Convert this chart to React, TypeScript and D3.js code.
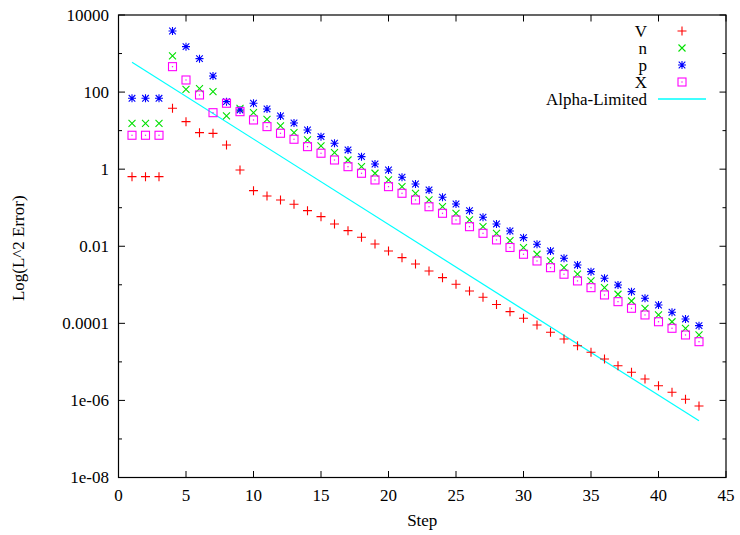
import React from "react";
import * as d3 from "d3";

// ---------- data ----------
const steps = [
  1, 2, 3, 4, 5, 6, 7, 8, 9, 10, 11, 12, 13, 14, 15, 16, 17, 18, 19, 20, 21, 22,
  23, 24, 25, 26, 27, 28, 29, 30, 31, 32, 33, 34, 35, 36, 37, 38, 39, 40, 41, 42, 43,
];

const valuesV = [
  0.64, 0.64, 0.64, 38, 17.1, 8.85, 8.5, 4.25, 0.95, 0.277, 0.202, 0.159, 0.123,
  0.0838, 0.0586, 0.0379, 0.0254, 0.0171, 0.01146, 0.00755, 0.00506, 0.00347,
  0.00228, 0.00153, 0.00103, 6.9e-4, 4.74e-4, 3.08e-4, 2.01e-4, 1.35e-4, 9.06e-5,
  5.86e-5, 3.93e-5, 2.63e-5, 1.77e-5, 1.19e-5, 7.96e-6, 5.37e-6, 3.6e-6, 2.41e-6,
  1.63e-6, 1.07e-6, 7.18e-7,
];

const valuesN = [
  15.5, 15.5, 15.5, 865, 118, 123, 102.5, 24, 38, 29.2, 19.7, 13.2, 8.85, 5.72,
  4.0, 2.68, 1.73, 1.16, 0.783, 0.525, 0.352, 0.237, 0.159, 0.106, 0.0717, 0.0481,
  0.0322, 0.0217, 0.014, 0.00918, 0.0062, 0.00415, 0.00278, 0.00188, 0.00126,
  8.42e-4, 5.68e-4, 3.8e-4, 2.46e-4, 1.65e-4, 1.1e-4, 7.44e-5, 4.99e-5,
];

const valuesP = [
  69, 69, 69, 3850, 1510, 736, 262, 56.4, 34.4, 51.3, 36.5, 24, 15.8, 10.4, 6.97,
  4.7, 3.15, 2.11, 1.36, 0.953, 0.616, 0.413, 0.289, 0.187, 0.125, 0.0838, 0.0565,
  0.0379, 0.0249, 0.0167, 0.01125, 0.00755, 0.00488, 0.00327, 0.00219, 0.00148,
  9.9e-4, 6.63e-4, 4.47e-4, 2.99e-4, 1.94e-4, 1.3e-4, 8.7e-5,
];

const valuesX = [
  7.58, 7.58, 7.58, 457, 206, 84.2, 29.2, 51.3, 31, 18.9, 12.7, 8.54, 5.97, 3.84,
  2.59, 1.73, 1.16, 0.783, 0.525, 0.352, 0.237, 0.159, 0.106, 0.0717, 0.0481,
  0.0322, 0.0217, 0.0146, 0.00929, 0.0062, 0.00415, 0.00278, 0.00188, 0.00126,
  8.42e-4, 5.45e-4, 3.65e-4, 2.46e-4, 1.65e-4, 1.1e-4, 7.44e-5, 4.99e-5, 3.34e-5,
];

const alphaSteps = [1, 43];
const alphaValues = [594, 2.98e-7];

const xTicks = [0, 5, 10, 15, 20, 25, 30, 35, 40, 45];
const yTicks = [1e4, 1e2, 1, 1e-2, 1e-4, 1e-6, 1e-8];
const yTickLabels = ["10000", "100", "1", "0.01", "0.0001", "1e-06", "1e-08"];
const yMinorTicks = [1e3, 10, 0.1, 1e-3, 1e-5, 1e-7];

const legendNames = ["V", "n", "p", "X", "Alpha-Limited"];

// ---------- layout ----------
const W = 740;
const H = 535;
const L = 118.5;
const R = 726;
const T = 15;
const B = 477.5;
const FONT = "'Liberation Serif', 'Times New Roman', serif";
const FS = 17;

const x = d3.scaleLinear().domain([0, 45]).range([L, R]);
const y = d3.scaleLog().domain([1e-8, 1e4]).range([B, T]);

type Kind = "plus" | "cross" | "star" | "box";

function Marker({ kind, cx, cy, color }: { kind: Kind; cx: number; cy: number; color: string }) {
  if (kind === "plus") {
    return (
      <path
        d={`M${cx - 4.5},${cy}h9M${cx},${cy - 4.5}v9`}
        stroke={color}
        strokeWidth={1.1}
        fill="none"
      />
    );
  }
  if (kind === "cross") {
    return (
      <path
        d={`M${cx - 3.5},${cy - 3.5}l7,7M${cx - 3.5},${cy + 3.5}l7,-7`}
        stroke={color}
        strokeWidth={1.1}
        fill="none"
      />
    );
  }
  if (kind === "star") {
    return (
      <path
        d={`M${cx - 4},${cy}h8M${cx},${cy - 4}v8M${cx - 3.3},${cy - 3.3}l6.6,6.6M${cx - 3.3},${cy + 3.3}l6.6,-6.6`}
        stroke={color}
        strokeWidth={1.1}
        fill="none"
      />
    );
  }
  return (
    <g>
      <rect x={cx - 4} y={cy - 4} width={8} height={8} stroke={color} strokeWidth={1.1} fill="none" />
      <rect x={cx - 0.6} y={cy - 0.6} width={1.2} height={1.2} fill={color} />
    </g>
  );
}

const series: { name: string; values: number[]; kind: Kind; color: string }[] = [
  { name: legendNames[0], values: valuesV, kind: "plus", color: "#ff0000" },
  { name: legendNames[1], values: valuesN, kind: "cross", color: "#00e000" },
  { name: legendNames[2], values: valuesP, kind: "star", color: "#0000ff" },
  { name: legendNames[3], values: valuesX, kind: "box", color: "#ff00ff" },
];

export default function App() {
  const alphaLine = d3
    .line<number>()
    .x((_, i) => x(alphaSteps[i]))
    .y((d) => y(d))(alphaValues) as string;

  const legendTextX = 647;
  const legendMarkX = 682;
  const legendTop = 31;
  const legendGap = 17;

  return (
    <svg
      width={W}
      height={H}
      viewBox={`0 0 ${W} ${H}`}
      style={{ position: "absolute", left: 0, top: 0, background: "#fff" }}
      fontFamily={FONT}
    >
      <rect x={0} y={0} width={W} height={H} fill="#fff" />

      {/* y ticks */}
      {yTicks.map((t, i) => (
        <g key={"yt" + i}>
          <line x1={L} x2={L + 6.5} y1={y(t)} y2={y(t)} stroke="#000" />
          <line x1={R} x2={R - 6.5} y1={y(t)} y2={y(t)} stroke="#000" />
          <text
            x={109}
            y={y(t)}
            dy="0.35em"
            textAnchor="end"
            fontSize={FS}
            fill="#000"
          >
            {yTickLabels[i]}
          </text>
        </g>
      ))}
      {yMinorTicks.map((t, i) => (
        <g key={"ym" + i}>
          <line x1={L} x2={L + 3.5} y1={y(t)} y2={y(t)} stroke="#000" />
          <line x1={R} x2={R - 3.5} y1={y(t)} y2={y(t)} stroke="#000" />
        </g>
      ))}

      {/* x ticks */}
      {xTicks.map((t) => (
        <g key={"xt" + t}>
          <line x1={x(t)} x2={x(t)} y1={B} y2={B - 6.5} stroke="#000" />
          <line x1={x(t)} x2={x(t)} y1={T} y2={T + 6.5} stroke="#000" />
          <text x={x(t)} y={501} textAnchor="middle" fontSize={FS} fill="#000">
            {t}
          </text>
        </g>
      ))}

      {/* frame */}
      <rect x={L} y={T} width={R - L} height={B - T} fill="none" stroke="#000" strokeWidth={1.2} />

      {/* axis titles */}
      <text x={(L + R) / 2} y={526} textAnchor="middle" fontSize={FS} fill="#000">
        Step
      </text>
      <text
        transform={`translate(24,${(T + B) / 2 + 2}) rotate(-90)`}
        textAnchor="middle"
        fontSize={FS}
        fill="#000"
      >
        Log(L^2 Error)
      </text>

      {/* alpha-limited line */}
      <path d={alphaLine} stroke="#00ffff" strokeWidth={1.2} fill="none" />

      {/* series markers */}
      {series.map((s) =>
        s.values.map((v, i) => (
          <Marker key={s.name + i} kind={s.kind} cx={x(steps[i])} cy={y(v)} color={s.color} />
        ))
      )}

      {/* legend */}
      {series.map((s, i) => (
        <g key={"lg" + i}>
          <text
            x={legendTextX}
            y={legendTop + i * legendGap}
            dy="0.35em"
            textAnchor="end"
            fontSize={FS}
            fill="#000"
          >
            {s.name}
          </text>
          <Marker kind={s.kind} cx={legendMarkX} cy={legendTop + i * legendGap} color={s.color} />
        </g>
      ))}
      <text
        x={legendTextX}
        y={legendTop + 4 * legendGap}
        dy="0.35em"
        textAnchor="end"
        fontSize={FS}
        fill="#000"
      >
        {legendNames[4]}
      </text>
      <line
        x1={658}
        x2={706}
        y1={legendTop + 4 * legendGap}
        y2={legendTop + 4 * legendGap}
        stroke="#00ffff"
        strokeWidth={1.5}
      />
    </svg>
  );
}
